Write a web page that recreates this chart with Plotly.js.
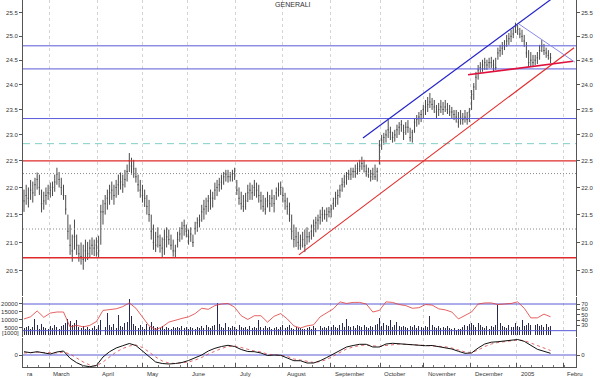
<!DOCTYPE html>
<html><head><meta charset="utf-8">
<script src="https://cdn.plot.ly/plotly-3.0.1.min.js"></script>
<style>html,body{margin:0;padding:0;background:#fff}#chart{width:600px;height:378px}</style>
</head><body><div id="chart"></div><script>
// ---- price bars (trading-day index 0..240) ----
const high = [21.96,22.05,22.00,22.14,22.11,22.18,22.28,22.24,21.96,21.92,
 22.00,22.05,22.09,22.11,22.24,22.37,22.29,22.18,22.05,21.86,
 21.50,21.32,21.14,21.41,21.14,20.96,21.00,20.96,21.05,21.01,
 21.05,21.09,21.05,21.09,21.12,21.68,21.77,21.86,21.96,22.05,
 22.11,22.05,22.14,22.24,22.28,22.24,22.33,22.43,22.65,22.56,
 22.52,22.37,22.24,22.14,22.05,21.96,21.86,21.77,21.50,21.32,
 21.19,21.27,21.14,21.09,21.23,21.27,21.23,21.14,21.05,20.96,
 21.19,21.27,21.37,21.41,21.32,21.23,21.27,21.14,21.37,21.45,
 21.50,21.68,21.77,21.81,21.86,21.96,21.92,22.09,22.14,22.18,
 22.24,22.29,22.33,22.33,22.29,22.33,22.37,22.14,22.00,21.92,
 21.86,21.90,22.05,22.09,22.05,22.14,22.09,22.05,21.92,21.86,
 21.81,21.92,21.86,21.96,21.86,22.00,22.09,22.11,22.00,21.90,
 21.81,21.72,21.50,21.32,21.27,21.19,21.14,21.19,21.23,21.27,
 21.19,21.32,21.41,21.46,21.50,21.59,21.64,21.59,21.63,21.64,
 21.68,21.81,21.92,21.96,22.05,22.18,22.24,22.29,22.33,22.37,
 22.37,22.43,22.47,22.52,22.58,22.52,22.43,22.37,22.33,22.37,
 22.43,22.37,22.90,23.00,23.04,23.10,23.29,23.16,23.06,23.10,
 23.20,23.25,23.29,23.20,23.25,23.29,23.14,23.10,23.33,23.39,
 23.45,23.49,23.59,23.69,23.75,23.83,23.73,23.69,23.59,23.63,
 23.69,23.65,23.69,23.63,23.59,23.55,23.49,23.49,23.45,23.49,
 23.43,23.49,23.45,23.53,23.89,24.03,24.26,24.40,24.46,24.51,
 24.55,24.51,24.55,24.57,24.51,24.55,24.76,24.82,24.88,24.92,
 25.03,25.07,25.14,25.18,25.29,25.24,25.18,25.14,25.03,24.88,
 24.71,24.67,24.61,24.61,24.67,24.82,24.92,24.84,24.76,24.71,
 24.65];
const low = [21.55,21.68,21.63,21.77,21.72,21.84,21.96,21.86,21.54,21.59,
 21.68,21.77,21.81,21.84,21.92,22.05,22.00,21.86,21.77,21.50,
 21.05,20.78,20.66,20.87,20.78,20.66,20.61,20.52,20.66,20.69,
 20.73,20.78,20.76,20.75,20.73,20.96,21.32,21.50,21.59,21.68,
 21.77,21.68,21.81,21.86,21.96,21.90,22.00,22.11,22.29,22.24,
 22.18,22.09,21.92,21.81,21.72,21.64,21.50,21.37,21.05,20.87,
 20.83,20.91,20.82,20.73,20.78,20.91,20.96,20.87,20.75,20.73,
 20.91,21.01,21.05,21.12,21.09,20.96,21.01,20.92,21.14,21.19,
 21.27,21.37,21.41,21.50,21.55,21.59,21.63,21.77,21.84,21.92,
 21.96,22.05,22.11,22.09,22.11,22.11,22.14,21.86,21.68,21.59,
 21.55,21.59,21.73,21.77,21.77,21.84,21.81,21.72,21.59,21.55,
 21.50,21.63,21.55,21.64,21.54,21.77,21.83,21.86,21.72,21.59,
 21.50,21.37,21.05,20.91,20.92,20.87,20.87,20.91,20.83,20.96,
 21.00,21.05,21.10,21.18,21.23,21.32,21.37,21.41,21.37,21.45,
 21.45,21.59,21.64,21.68,21.81,21.92,22.00,22.05,22.14,22.14,
 22.18,22.18,22.24,22.29,22.33,22.28,22.20,22.18,22.11,22.14,
 22.14,22.11,22.43,22.71,22.81,22.85,22.94,22.90,22.85,22.87,
 22.94,23.00,23.06,22.90,23.00,23.04,22.87,22.85,23.04,23.16,
 23.20,23.25,23.33,23.39,23.45,23.53,23.49,23.43,23.33,23.37,
 23.43,23.39,23.45,23.41,23.37,23.33,23.29,23.24,23.14,23.20,
 23.20,23.24,23.20,23.25,23.49,23.69,23.89,24.10,24.24,24.26,
 24.30,24.30,24.34,24.34,24.26,24.30,24.51,24.57,24.61,24.71,
 24.78,24.82,24.88,24.96,25.07,25.03,24.96,24.88,24.78,24.55,
 24.36,24.38,24.36,24.40,24.42,24.51,24.67,24.61,24.55,24.51,
 24.44];
const close = [21.75,21.85,21.80,21.95,21.90,22.05,22.15,22.00,21.70,21.75,
 21.85,21.90,21.95,22.00,22.10,22.25,22.15,22.00,21.85,21.60,
 21.20,20.95,20.85,21.10,20.95,20.80,20.75,20.70,20.85,20.80,
 20.90,20.95,20.90,20.95,20.85,21.55,21.55,21.70,21.80,21.90,
 21.95,21.85,22.00,22.05,22.10,22.05,22.15,22.30,22.50,22.40,
 22.35,22.20,22.05,21.95,21.85,21.80,21.65,21.50,21.20,21.00,
 20.95,21.10,20.95,20.90,21.05,21.10,21.05,20.95,20.85,20.85,
 21.05,21.15,21.25,21.30,21.20,21.10,21.15,21.00,21.25,21.35,
 21.40,21.55,21.60,21.65,21.75,21.80,21.80,21.95,22.00,22.05,
 22.10,22.20,22.25,22.20,22.20,22.25,22.30,21.95,21.80,21.70,
 21.65,21.75,21.90,21.95,21.90,22.00,21.95,21.85,21.75,21.65,
 21.60,21.75,21.70,21.80,21.70,21.90,21.95,22.00,21.85,21.75,
 21.65,21.50,21.20,21.05,21.10,21.00,20.95,21.05,20.95,21.10,
 21.10,21.20,21.30,21.35,21.40,21.45,21.50,21.50,21.50,21.55,
 21.60,21.70,21.80,21.85,21.95,22.05,22.10,22.20,22.25,22.25,
 22.30,22.30,22.35,22.40,22.45,22.40,22.30,22.25,22.20,22.25,
 22.20,22.30,22.80,22.90,22.95,23.00,23.10,23.05,22.95,23.00,
 23.10,23.15,23.20,23.05,23.15,23.15,22.95,23.05,23.25,23.30,
 23.35,23.40,23.50,23.55,23.60,23.65,23.60,23.55,23.45,23.50,
 23.55,23.50,23.55,23.50,23.45,23.45,23.40,23.35,23.25,23.35,
 23.30,23.35,23.30,23.45,23.80,23.95,24.15,24.30,24.35,24.40,
 24.45,24.40,24.45,24.45,24.40,24.35,24.65,24.70,24.75,24.80,
 24.90,24.95,25.00,25.05,25.20,25.15,25.05,25.00,24.90,24.65,
 24.45,24.50,24.45,24.50,24.55,24.70,24.80,24.70,24.65,24.60,
 24.55];
const volume = [4500,5200,6000,3800,5500,10500,6500,4200,7000,5000,
 4800,3900,5600,4400,6200,5000,4300,5800,6500,7500,
 10000,9000,6500,8000,9500,5500,4800,6000,4200,5200,
 3800,4500,5600,4100,6800,9500,7000,5500,13700,6200,
 5400,7200,4800,12500,6000,5200,7500,8500,22500,12000,
 7000,5600,4800,6200,5100,4300,7000,5500,8500,6000,
 4800,5300,4500,6000,4200,5100,4700,3900,5500,4600,
 5200,4400,6000,4800,5500,4100,5000,4600,3800,5300,
 4400,5800,4900,6200,5300,4700,5600,6400,20000,7200,
 5500,4800,8000,5200,4600,6000,5100,4300,6800,5000,
 4700,5400,4200,6100,4800,5300,4500,9400,5200,4600,
 5800,4400,5000,3900,4800,5500,4200,5000,6200,4700,
 5300,6500,4800,4000,5200,4600,4400,3900,4300,4800,
 5200,4100,5600,4700,5400,6000,4900,5300,4600,5800,
 5000,6400,5500,4800,6200,7500,5400,10000,6000,5200,
 5800,4900,6500,5600,5000,6800,5300,4700,6100,5500,
 6500,7200,11000,6000,7500,6600,5800,9400,5400,6200,
 8500,5600,5000,6100,5300,4700,5900,5200,6400,4800,
 5600,5000,4600,6000,5400,12000,6200,5100,4800,5700,
 4500,5300,4900,5800,4400,4000,4700,3600,3900,4300,
 5200,6300,5800,7000,7500,6800,5400,7800,6200,5000,
 4800,5600,4300,6000,5200,6400,19000,8000,5600,5000,
 4700,6200,5400,5000,7500,6000,5300,9400,5800,6600,
 7500,6200,5400,6800,7000,5800,6300,5500,6900,5200,
 6000];
// ---- indicators, sampled every 3 trading days ----
const indDay = [0,3,6,9,12,15,18,21,24,27,30,33,36,39,42,45,48,51,54,57,60,63,66,69,72,75,78,81,84,87,
 90,93,96,99,102,105,108,111,114,117,120,123,126,129,132,135,138,141,144,147,150,153,156,159,162,165,168,171,174,177,
 180,183,186,189,192,195,198,201,204,207,210,213,216,219,222,225,228,231,234,237,240];
const rsi = [42,46,57,45,53,55,55,27,30,27, 30,37,58,59,61,65,72,62,46,29,
 22,27,36,40,43,46,52,62,60,67, 70,71,64,48,41,48,48,36,47,52,
 42,29,25,29,31,46,54,61,74,71, 73,73,70,55,58,74,73,69,67,62,
 63,69,68,61,59,55,42,49,55,70, 72,72,69,70,71,74,62,44,44,51, 46];
const macd = [0.033,0.023,0.033,0.02,0.01,0.03,0.04,-0.033,-0.077,-0.107,
 -0.117,-0.105,-0.02,0.033,0.07,0.093,0.115,0.095,0.04,-0.02,
 -0.07,-0.085,-0.09,-0.085,-0.075,-0.055,-0.03,0,0.04,0.067,
 0.085,0.097,0.085,0.055,0.035,0.033,0.02,-0.005,0,-0.003,
 -0.03,-0.057,-0.057,-0.08,-0.08,-0.057,-0.025,0.01,0.05,0.08,
 0.095,0.107,0.107,0.08,0.08,0.11,0.117,0.112,0.105,0.1,
 0.1,0.093,0.095,0.083,0.077,0.06,0.037,0.017,0.02,0.07,
 0.11,0.128,0.133,0.14,0.15,0.155,0.137,0.093,0.057,0.037,0.017];
const signal = [0.02,0.025,0.028,0.025,0.02,0.02,0.03,0.01,-0.03,-0.07,
 -0.1,-0.11,-0.07,-0.02,0.03,0.065,0.09,0.1,0.075,0.03,
 -0.02,-0.06,-0.08,-0.085,-0.08,-0.07,-0.05,-0.025,0.01,0.04,
 0.065,0.085,0.09,0.075,0.055,0.04,0.03,0.01,0.0,-0.002,
 -0.015,-0.04,-0.05,-0.065,-0.075,-0.065,-0.045,-0.01,0.025,0.06,
 0.08,0.095,0.1,0.09,0.085,0.095,0.105,0.11,0.107,0.103,
 0.1,0.097,0.095,0.09,0.083,0.07,0.05,0.03,0.025,0.05,
 0.085,0.11,0.125,0.135,0.143,0.15,0.145,0.12,0.09,0.065,0.045];
// ---- levels and trend lines (trading-day index, price) ----
const blueLevels = [24.80, 24.32, 23.32];
const redLevels = [22.50, 20.73];
const dashLevel = 22.83;
const dotLevels = [22.26, 21.24];
const channelTop = {x:[154.5, 244.3], y:[22.94, 25.94]};
const channelBottom = {x:[125.3, 250.7], y:[20.78, 24.76]};
const supportLine = {x:[202.4, 250.2], y:[24.20, 24.48]};
const wedgeTop = {x:[225.6, 251.1], y:[25.26, 24.46]};
const rsiLevels = [70, 20];
// ---- axis labels ----
const monthStarts = [11.4, 33.7, 54.2, 74.7, 96.6, 118.0, 139.9, 162.3, 182.3, 203.7, 224.7, 245.7];
const monthLabels = ['March','April','May','June','July','August','September','October','November','December','2005','Febru'];
const priceTicks = [20.5,21.0,21.5,22.0,22.5,23.0,23.5,24.0,24.5,25.0,25.5];
const volTicks = [5000,10000,15000,20000];
const rsiTicks = [30,40,50,60,70];

const X0 = -0.46, X1 = 251.6;
const days = high.map((_, i) => i);
const priceRange = [Math.log10(20.07), Math.log10(25.78)];
const ink = '#333';
const lineTr = (x, y, xa, ya, color, width, dash) => ({type:'scatter', mode:'lines', x, y, xaxis:xa, yaxis:ya,
  line:{color, width, dash: dash || 'solid'}, hoverinfo:'skip'});

const traces = [];
blueLevels.forEach(v => traces.push(lineTr([X0,X1],[v,v],'x','y','#5a5ad8',1)));
traces.push(lineTr([X0,X1],[dashLevel,dashLevel],'x','y','#7fcfc8',1,'7px,5px'));
dotLevels.forEach(v => traces.push(lineTr([X0,X1],[v,v],'x','y','#8c8c8c',1,'1px,2px')));
redLevels.forEach(v => traces.push(lineTr([X0,X1],[v,v],'x','y','#e02a2a',1.3)));
traces.push({type:'ohlc', x:days, open:close, high, low, close, xaxis:'x', yaxis:'y',
  increasing:{line:{color:'#4a4a4a', width:1}}, decreasing:{line:{color:'#4a4a4a', width:1}}, tickwidth:0.3, hoverinfo:'skip'});
traces.push(lineTr(channelTop.x, channelTop.y, 'x','y','#2525c8',1.2));
traces.push(lineTr(channelBottom.x, channelBottom.y, 'x','y','#e02a2a',1.1));
traces.push(lineTr(supportLine.x, supportLine.y, 'x','y','#e0103c',1.6));
traces.push(lineTr(wedgeTop.x, wedgeTop.y, 'x','y','#8a8ae8',1));
traces.push({type:'scatter', mode:'markers', x:[0], y:[22], xaxis:'x', yaxis:'y2', marker:{opacity:0}, hoverinfo:'skip'});
// volume + RSI
traces.push({type:'bar', x:days, y:volume, xaxis:'x2', yaxis:'y3', marker:{color:'#2a2a4e', line:{width:0}}, width:0.45, hoverinfo:'skip'});
rsiLevels.forEach(v => traces.push(lineTr([X0,X1],[v,v],'x2','y4','#5a5ad8',1)));
traces.push(lineTr(indDay, rsi, 'x2','y4','#e03a3a',0.8));
// MACD
traces.push(lineTr([X0,X1],[0,0],'x3','y5','#5a5ad8',1));
traces.push(lineTr(indDay, signal, 'x3','y5','#e04040',0.8,'dot'));
traces.push(lineTr(indDay, macd, 'x3','y5','#111',1));
traces.push({type:'scatter', mode:'markers', x:[0], y:[0], xaxis:'x3', yaxis:'y6', marker:{opacity:0}, hoverinfo:'skip'});

const xCommon = {range:[X0,X1], tickmode:'array', tickvals:monthStarts, showticklabels:false, ticks:'',
  showgrid:true, gridcolor:'#d4d4d4', griddash:'dot', gridwidth:1, zeroline:false, showline:false, fixedrange:true,
  rangeslider:{visible:false}};
const yCommon = {showgrid:false, zeroline:false, showline:true, linecolor:'#555', linewidth:1, ticks:'outside', ticklen:3,
  tickcolor:'#555', tickfont:{size:6, color:ink}, fixedrange:true};

const annotations = monthLabels.map((t, i) => ({text:t, x:monthStarts[i]+0.8, xref:'x3', y:0, yref:'paper',
  xanchor:'left', yanchor:'top', yshift:-1, showarrow:false, font:{size:6, color:ink}}));
annotations.push({text:'ra', x:0.3, xref:'x3', y:0, yref:'paper', xanchor:'left', yanchor:'top', yshift:-1, showarrow:false, font:{size:6, color:ink}});
annotations.push({text:'[1000]', x:-0.041, xref:'paper', y:0.095, yref:'paper', xanchor:'left', yanchor:'middle', showarrow:false, font:{size:6, color:ink}});

const layout = {
  width:600, height:378, margin:{l:23, r:24, t:0, b:10},
  paper_bgcolor:'#fff', plot_bgcolor:'#fff', showlegend:false, bargap:0,
  font:{family:'Liberation Sans, Arial, sans-serif', size:6, color:ink},
  title:{text:'GENERALI', font:{size:7, color:ink}, x:0.488, xanchor:'center', y:0.987, yanchor:'middle'},
  xaxis: Object.assign({}, xCommon, {domain:[0,1], anchor:'y'}),
  xaxis2: Object.assign({}, xCommon, {domain:[0,1], anchor:'y3', matches:'x'}),
  xaxis3: Object.assign({}, xCommon, {domain:[0,1], anchor:'y5', matches:'x', showline:true, linecolor:'#555',
    ticks:'inside', ticklen:4, tickcolor:'#555',
    minor:{tickmode:'linear', tick0:1.5, dtick:5, ticks:'inside', ticklen:2, tickcolor:'#777', showgrid:false}}),
  yaxis: Object.assign({}, yCommon, {domain:[0.1957,1], anchor:'x', type:'log', range:priceRange,
    tickmode:'array', tickvals:priceTicks, ticktext:priceTicks.map(v => v.toFixed(1))}),
  yaxis2: Object.assign({}, yCommon, {overlaying:'y', side:'right', anchor:'x', type:'log', range:priceRange,
    tickmode:'array', tickvals:priceTicks, ticktext:priceTicks.map(v => v.toFixed(1))}),
  yaxis3: Object.assign({}, yCommon, {domain:[0.0842,0.1929], anchor:'x2', range:[-1000,24000],
    tickmode:'array', tickvals:volTicks, ticktext:volTicks.map(String)}),
  yaxis4: Object.assign({}, yCommon, {overlaying:'y3', side:'right', anchor:'x2', range:[8.1,83.1],
    tickmode:'array', tickvals:rsiTicks, ticktext:rsiTicks.map(String)}),
  yaxis5: Object.assign({}, yCommon, {domain:[0.0027,0.0815], anchor:'x3', range:[-0.12,0.17],
    tickmode:'array', tickvals:[0], ticktext:['0']}),
  yaxis6: Object.assign({}, yCommon, {overlaying:'y5', side:'right', anchor:'x3', range:[-0.12,0.17],
    tickmode:'array', tickvals:[0], ticktext:['0']}),
  annotations
};
Plotly.newPlot('chart', traces, layout, {displayModeBar:false, staticPlot:true});
</script></body></html>
